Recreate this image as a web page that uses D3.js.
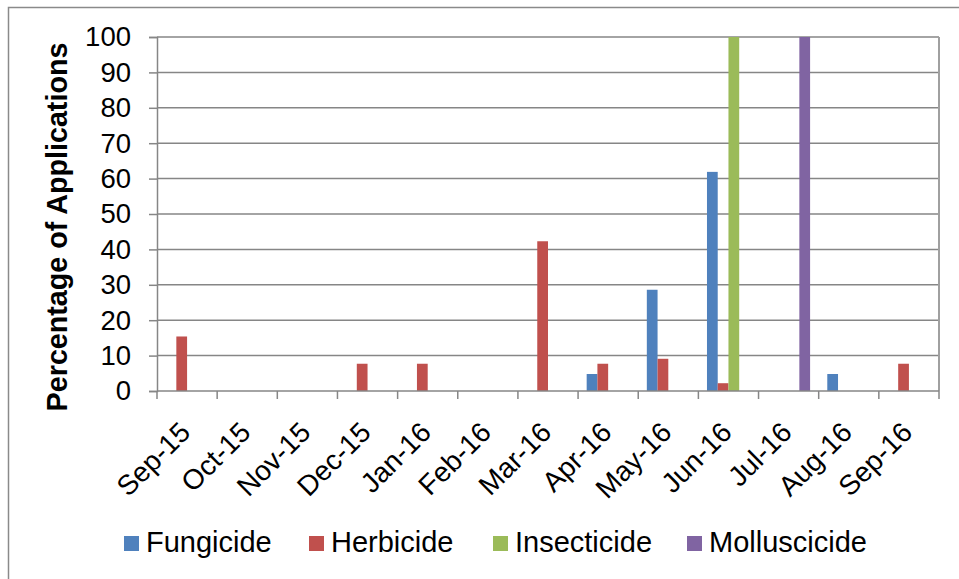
<!DOCTYPE html>
<html>
<head>
<meta charset="utf-8">
<script src="https://cdn.jsdelivr.net/npm/d3@7"></script>
<style>
  body { margin: 0; background: #fff; }
  text { font-family: "Liberation Sans", Arial, sans-serif; fill: #000; }
</style>
</head>
<body>
<div id="container"></div>
<script>
/* Data */
var months = ['Sep-15', 'Oct-15', 'Nov-15', 'Dec-15', 'Jan-16', 'Feb-16', 'Mar-16',
	'Apr-16', 'May-16', 'Jun-16', 'Jul-16', 'Aug-16', 'Sep-16'];
var seriesNames = ['Fungicide', 'Herbicide', 'Insecticide', 'Molluscicide'];
var seriesColors = ['#4F81BD', '#C0504D', '#9BBB59', '#8064A2'];
var fungicide = [0, 0, 0, 0, 0, 0, 0, 4.8, 28.6, 61.9, 0, 4.8, 0];
var herbicide = [15.4, 0, 0, 7.7, 7.7, 0, 42.3, 7.7, 9.1, 2.2, 0, 0, 7.7];
var insecticide = [0, 0, 0, 0, 0, 0, 0, 0, 0, 100, 0, 0, 0];
var molluscicide = [0, 0, 0, 0, 0, 0, 0, 0, 0, 0, 100, 0, 0];
var yTicks = [0, 10, 20, 30, 40, 50, 60, 70, 80, 90, 100];

var seriesValues = [fungicide, herbicide, insecticide, molluscicide];

var w = 959, h = 579;
var margin = {top: 37, right: 20, bottom: 188, left: 157};
var plotWidth = 939 - margin.left,
	plotHeight = 391 - margin.top;

var svg = d3.select('#container').append('svg')
	.attr('width', w)
	.attr('height', h);

/* outer chart border */
svg.append('rect')
	.attr('x', 8.5)
	.attr('y', 7.5)
	.attr('width', w + 20)
	.attr('height', h + 20)
	.attr('fill', 'none')
	.attr('stroke', '#8a8a8a')
	.attr('stroke-width', 1.5);

var chart = svg.append('g')
	.attr('transform', 'translate(' + margin.left + ',' + margin.top + ')');

/* Scales */
var xScale = d3.scaleBand()
	.domain(months)
	.range([0, plotWidth])
	.padding(0);

var subScale = d3.scaleBand()
	.domain(seriesNames)
	.range([0, xScale.bandwidth()])
	.paddingInner(0)
	.paddingOuter(0.8);

var yScale = d3.scaleLinear()
	.domain([0, 100])
	.range([plotHeight, 0]);

/* Gridlines */
chart.append('g')
	.selectAll('line')
	.data(yTicks.filter(d => d > 0))
	.enter().append('line')
	.attr('x1', 0)
	.attr('x2', plotWidth)
	.attr('y1', d => yScale(d))
	.attr('y2', d => yScale(d))
	.attr('stroke', '#868686')
	.attr('stroke-width', 1.5);

/* right plot border */
chart.append('line')
	.attr('x1', plotWidth)
	.attr('x2', plotWidth)
	.attr('y1', yScale(100))
	.attr('y2', plotHeight)
	.attr('stroke', '#a0a0a0')
	.attr('stroke-width', 2);

/* Bars */
var rows = months.map((m, i) => ({
	month: m,
	values: seriesNames.map((s, j) => ({series: s, value: seriesValues[j][i], color: seriesColors[j]}))
}));

chart.append('g')
	.selectAll('g')
	.data(rows)
	.enter().append('g')
	.attr('transform', d => 'translate(' + xScale(d.month) + ',0)')
	.selectAll('rect')
	.data(d => d.values.filter(v => v.value > 0))
	.enter().append('rect')
	.attr('x', d => subScale(d.series))
	.attr('y', d => yScale(d.value))
	.attr('width', subScale.bandwidth())
	.attr('height', d => plotHeight - yScale(d.value))
	.attr('fill', d => d.color);

/* Y-Axis */
var yAxis = d3.axisLeft(yScale)
	.tickValues(yTicks)
	.tickSize(8)
	.tickPadding(18);

var yAxisG = chart.append('g')
	.call(yAxis);
yAxisG.select('.domain').attr('stroke', '#868686').attr('stroke-width', 1.5);
yAxisG.selectAll('.tick line').attr('stroke', '#868686').attr('stroke-width', 1.5);
yAxisG.selectAll('text')
	.style('font-size', '27.5px')
	.style('font-family', '"Liberation Sans", Arial, sans-serif')
	.attr('fill', '#000');

/* X-Axis */
var xAxisG = chart.append('g')
	.attr('transform', 'translate(0,' + plotHeight + ')');

xAxisG.append('line')
	.attr('x1', 0)
	.attr('x2', plotWidth)
	.attr('stroke', '#868686')
	.attr('stroke-width', 1.5);

xAxisG.selectAll('.xtick')
	.data(d3.range(months.length + 1))
	.enter().append('line')
	.attr('x1', d => d * xScale.step())
	.attr('x2', d => d * xScale.step())
	.attr('y1', 0)
	.attr('y2', 8)
	.attr('stroke', '#868686')
	.attr('stroke-width', 1.5);

xAxisG.selectAll('.xlabel')
	.data(months)
	.enter().append('text')
	.attr('text-anchor', 'end')
	.attr('transform', d => 'translate(' + (xScale(d) + xScale.bandwidth() / 2 + 5) + ',43) rotate(-45)')
	.style('font-size', '28px')
	.text(d => d);

/* Y title */
svg.append('text')
	.attr('transform', 'translate(67,' + (margin.top + plotHeight / 2 + 13) + ') rotate(-90)')
	.attr('text-anchor', 'middle')
	.style('font-size', '28.7px')
	.style('font-weight', 'bold')
	.text('Percentage of Applications');

/* Legend */
var legendX = [124, 309, 493, 687];
var legend = svg.append('g')
	.selectAll('g')
	.data(seriesNames)
	.enter().append('g')
	.attr('transform', (d, i) => 'translate(' + legendX[i] + ',536)');

legend.append('rect')
	.attr('width', 15)
	.attr('height', 15)
	.attr('fill', (d, i) => seriesColors[i]);

legend.append('text')
	.attr('x', 22)
	.attr('y', 16)
	.style('font-size', '29px')
	.text(d => d);
</script>
</body>
</html>
